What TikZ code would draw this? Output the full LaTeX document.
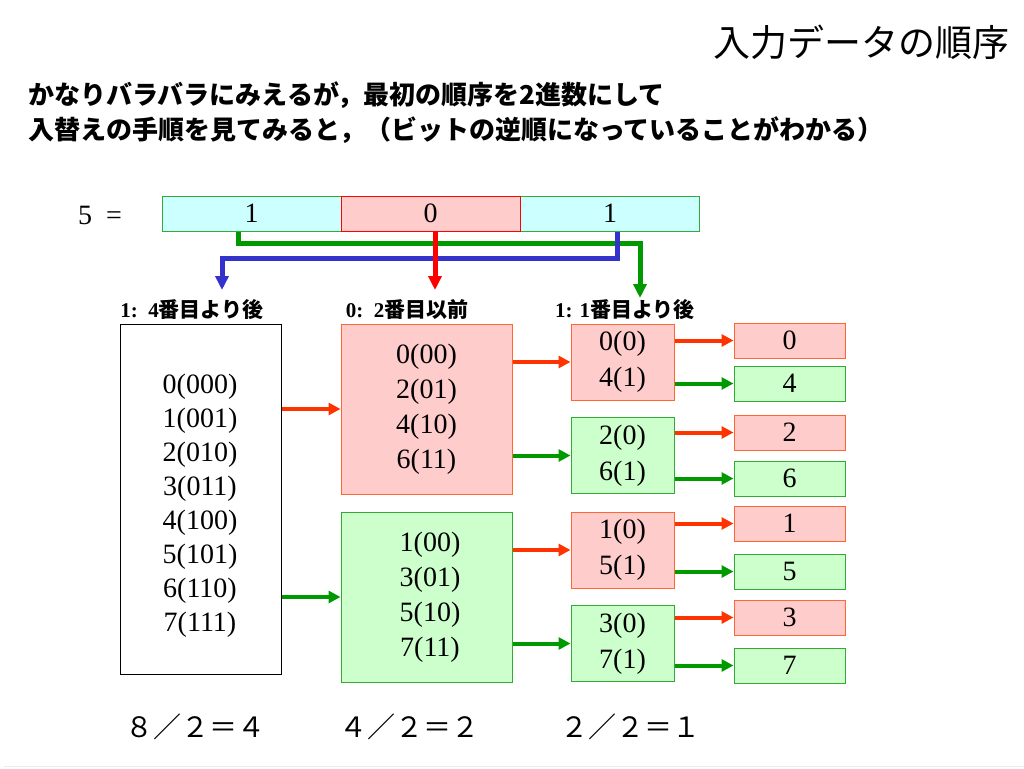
\documentclass[tikz,border=0pt]{standalone}
\usepackage{fontspec}
\setmainfont{Liberation Serif}
\newfontfamily\cjk{Noto Sans CJK JP}
\usetikzlibrary{arrows.meta}

\definecolor{pinkfill}{HTML}{FFCCCC}
\definecolor{mintfill}{HTML}{CCFFCC}
\definecolor{cyanfill}{HTML}{CCFFFF}
\definecolor{redline}{HTML}{FF6633}
\definecolor{greenline}{HTML}{33AA33}
\definecolor{arrred}{HTML}{FF3300}
\definecolor{arrgreen}{HTML}{009900}
\definecolor{arrblue}{HTML}{3333CC}

\tikzset{
	num/.style={font=\fontsize{28}{34}\selectfont, align=center, inner sep=0pt},
	redbox/.style={shape=rectangle, draw=redline, fill=pinkfill, line width=1pt, num},
	greenbox/.style={shape=rectangle, draw=greenline, fill=mintfill, line width=1pt, num},
	arr/.style={line width=4pt, -{Triangle[length=12pt,width=12pt]}},
	bitarr/.style={line width=5pt, -{Triangle[length=14pt,width=13pt]}},
	lbl/.style={inner sep=0pt, font=\fontsize{21}{24}\selectfont},
}

\begin{document}
\begin{tikzpicture}[x=1pt, y=-1pt]
	\useasboundingbox (0,0) rectangle (1024,768);
	\draw[black!8, line width=1pt] (4,766) -- (1024,766);

	% titles
	\node[inner sep=0pt, anchor=east, font=\cjk\fontsize{37}{40}\selectfont] (title) at (1010,42) {入力データの順序};
	\node[inner sep=0pt, anchor=west, font=\cjk\bfseries\fontsize{26}{28}\selectfont] (sub1) at (28,95) {かなりバラバラにみえるが，最初の順序を2進数にして};
	\node[inner sep=0pt, anchor=west, font=\cjk\bfseries\fontsize{26}{28}\selectfont] (sub2) at (28,130) {入替えの手順を見てみると，（ビットの逆順になっていることがわかる）};

	% the bits of 5
	\node[num] (five) at (100,215) {5\ \ =};
	\node[shape=rectangle, draw=greenline, fill=cyanfill, line width=1pt, num, minimum width=179pt, minimum height=35pt] (c1) at (251.5,213.5) {1};
	\node[shape=rectangle, draw=greenline, fill=cyanfill, line width=1pt, num, minimum width=179pt, minimum height=35pt] (c3) at (610,213.5) {1};
	\node[redbox, draw=red, minimum width=179pt, minimum height=35pt] (c2) at (430.5,213.5) {0};

	\node[lbl] (l1) at (192,310) {{\bfseries 1:\ \ 4}{\cjk\bfseries 番目より後}};
	\node[lbl] (l2) at (407,310) {{\bfseries 0:\ \ 2}{\cjk\bfseries 番目以前}};
	\node[lbl] (l3) at (625,310) {{\bfseries 1: 1}{\cjk\bfseries 番目より後}};

	\coordinate (tipg) at (640,298);
	\coordinate (tipb) at (222,290);
	\coordinate (tipr) at (435,290);
	\draw[bitarr, arrgreen] ([xshift=-13.5pt]c1.south) -- ++(0,12) -| (tipg);
	\draw[bitarr, arrblue]  ([xshift=7pt]c3.south) -- ++(0,27) -| (tipb);
	\draw[bitarr, red]      ([xshift=4.5pt]c2.south) -- (tipr);

	% step 1: 8/2=4
	\node[shape=rectangle, draw=black, line width=1pt, minimum width=161pt, minimum height=350pt] (all) at (200.5,499) {};
	\node[num] (alltext) at (200,506)
		{0(000)\\1(001)\\2(010)\\3(011)\\4(100)\\5(101)\\6(110)\\7(111)};

	% step 2: 4/2=2
	\node[redbox, font=\fontsize{28}{35}\selectfont, minimum width=171pt, minimum height=170pt] (even) at (426.5,409)
		{0(00)\\2(01)\\4(10)\\6(11)};
	\node[greenbox, font=\fontsize{28}{35}\selectfont, minimum width=171pt, minimum height=170pt] (odd) at (426.5,597)
		{\ 1(00)\\\ 3(01)\\\ 5(10)\\\ 7(11)};

	% step 3: 2/2=1
	\node[redbox, font=\fontsize{28}{36}\selectfont, minimum width=103pt, minimum height=76pt] (e0) at (622.5,362) {0(0)\\4(1)};
	\node[greenbox, font=\fontsize{28}{36}\selectfont, minimum width=103pt, minimum height=76pt] (e1) at (622.5,455.5) {2(0)\\6(1)};
	\node[redbox, font=\fontsize{28}{36}\selectfont, minimum width=103pt, minimum height=76pt] (o0) at (622.5,550) {1(0)\\5(1)};
	\node[greenbox, font=\fontsize{28}{36}\selectfont, minimum width=103pt, minimum height=76pt] (o1) at (622.5,643.5) {3(0)\\7(1)};

	% result
	\node[redbox, minimum width=111pt, minimum height=35pt]   (r0) at (789.5,340.5) {0};
	\node[greenbox, minimum width=111pt, minimum height=35pt] (r4) at (789.5,383.5) {4};
	\node[redbox, minimum width=111pt, minimum height=35pt]   (r2) at (789.5,432.5) {2};
	\node[greenbox, minimum width=111pt, minimum height=35pt] (r6) at (789.5,478.5) {6};
	\node[redbox, minimum width=111pt, minimum height=35pt]   (r1) at (789.5,523.5) {1};
	\node[greenbox, minimum width=111pt, minimum height=35pt] (r5) at (789.5,571.5) {5};
	\node[redbox, minimum width=111pt, minimum height=35pt]   (r3) at (789.5,617.5) {3};
	\node[greenbox, minimum width=111pt, minimum height=35pt] (r7) at (789.5,665.5) {7};

	\draw[arr, arrred]   (all.east |- even.west) -- (even.west);
	\draw[arr, arrgreen] (all.east |- odd.west)  -- (odd.west);
	\draw[arr, arrred]   (even.east |- e0.west) -- (e0.west);
	\draw[arr, arrgreen] (even.east |- e1.west) -- (e1.west);
	\draw[arr, arrred]   (odd.east |- o0.west)  -- (o0.west);
	\draw[arr, arrgreen] (odd.east |- o1.west)  -- (o1.west);

	\draw[arr, arrred]   (e0.east |- r0.west) -- (r0.west);
	\draw[arr, arrgreen] (e0.east |- r4.west) -- (r4.west);
	\draw[arr, arrred]   (e1.east |- r2.west) -- (r2.west);
	\draw[arr, arrgreen] (e1.east |- r6.west) -- (r6.west);
	\draw[arr, arrred]   (o0.east |- r1.west) -- (r1.west);
	\draw[arr, arrgreen] (o0.east |- r5.west) -- (r5.west);
	\draw[arr, arrred]   (o1.east |- r3.west) -- (r3.west);
	\draw[arr, arrgreen] (o1.east |- r7.west) -- (r7.west);

	% counts
	\node[inner sep=0pt, font=\cjk\fontsize{28}{30}\selectfont] (n1) at (195,727) {８／２＝４};
	\node[inner sep=0pt, font=\cjk\fontsize{28}{30}\selectfont] (n2) at (409,727) {４／２＝２};
	\node[inner sep=0pt, font=\cjk\fontsize{28}{30}\selectfont] (n3) at (630,727) {２／２＝１};
\end{tikzpicture}
\end{document}
